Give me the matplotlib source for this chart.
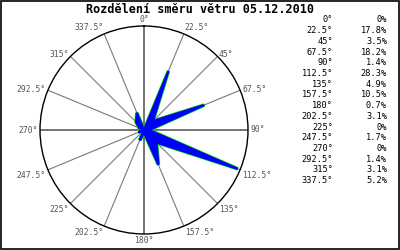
import numpy as np
import matplotlib
matplotlib.use("Agg")
import matplotlib.pyplot as plt
from matplotlib.patches import Rectangle

# wind direction distribution 05.12.2010
directions = [0, 22.5, 45, 67.5, 90, 112.5, 135, 157.5,
              180, 202.5, 225, 247.5, 270, 292.5, 315, 337.5]
shares = [0, 17.8, 3.5, 18.2, 1.4, 28.3, 4.9, 10.5,
          0.7, 3.1, 0, 1.7, 0, 1.4, 3.1, 5.2]
title = "Rozdělení směru větru 05.12.2010"

rmax = 29.0
mono = "DejaVu Sans Mono"

fig = plt.figure(figsize=(4, 2.5), dpi=100)
fig.patch.set_facecolor("white")
fig.patches.append(Rectangle((0.0015, 0.0025), 0.996, 0.994, transform=fig.transFigure,
                             fill=False, edgecolor="black", lw=1.2))

ax = fig.add_axes([40 / 400, 16 / 250, 208 / 400, 208 / 250], projection="polar")
ax.set_theta_zero_location("N")
ax.set_theta_direction(-1)
ax.set_ylim(0, rmax)
ax.grid(False)
ax.set_xticks([])
ax.set_yticks([])
ax.spines["polar"].set_color("black")
ax.spines["polar"].set_linewidth(1.0)

th = np.deg2rad(directions)

# spokes
for d, t in zip(directions, th):
    if d % 90 == 0:
        ax.plot([t, t], [0, rmax], color="#6a6a6a", lw=1.3, zorder=1)
    else:
        ax.plot([t, t], [0, rmax], color="#7a7a7a", lw=0.8, zorder=1)

# rose polygon
tc = np.append(th, th[0])
vc = np.append(shares, shares[0])
ax.plot(tc, vc, color="#00dd00", lw=2.6, zorder=2, solid_joinstyle="miter")
ax.fill(tc, vc, facecolor="#0000ff", edgecolor="#0000ff", lw=1.6, zorder=3,
        joinstyle="miter")

# direction labels
for d, t in zip(directions, th):
    s, c = np.sin(t), np.cos(t)
    ha = "left" if s > 0.1 else ("right" if s < -0.1 else "center")
    va = "bottom" if c > 0.8 else ("top" if c < -0.3 else "center")
    ax.annotate(f"{d:g}°", (t, rmax), xytext=(s * 1.5, c * 1.5), textcoords="offset points",
                ha=ha, va=va, fontsize=5.8, family=mono, color="#555555",
                annotation_clip=False)

fig.text(0.5, 1 - 13 / 250, title, ha="center", va="baseline", fontsize=8.5,
         family=mono, fontweight="bold")

# legend table
for i, (d, p) in enumerate(zip(directions, shares)):
    y = 1 - (20 + i * 10.7) / 250
    fig.text(333 / 400, y, f"{d:g}°", ha="right", va="center", fontsize=6.2, family=mono)
    fig.text(387 / 400, y, f"{p:g}%", ha="right", va="center", fontsize=6.2, family=mono)

fig.savefig("out.png", dpi=100)
